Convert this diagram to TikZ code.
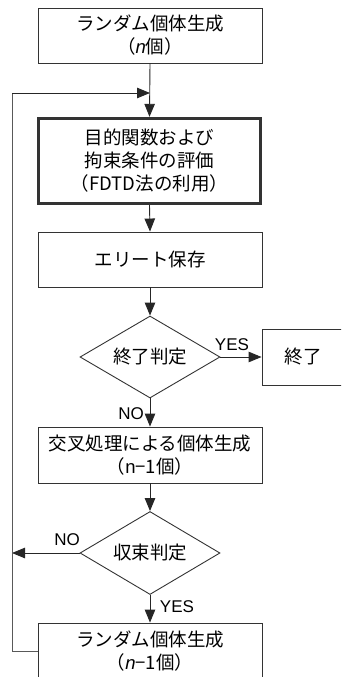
\documentclass[tikz,border=0pt]{standalone}
\usepackage{fontspec}
\setmainfont{Noto Sans CJK JP}
\newfontfamily\lat{Liberation Sans}
\usetikzlibrary{shapes.geometric,arrows.meta}
\tikzset{
  box/.style={draw=black!80, line width=0.9pt, minimum width=224pt, inner sep=0pt, align=center,
    font=\fontsize{18.5pt}{23pt}\selectfont},
  thickbox/.style={box, line width=3.4pt},
  decision/.style={draw=black!80, line width=0.9pt, shape=diamond, aspect=1.7, minimum width=140pt,
    minimum height=82pt, inner sep=0pt, font=\fontsize{18.5pt}{23pt}\selectfont},
  flow/.style={draw=black!85, line width=0.9pt, -{Triangle[length=13pt,width=10.5pt]}},
  loopline/.style={draw=black!65, line width=1pt},
  lbl/.style={font=\lat\fontsize{17pt}{19pt}\selectfont, inner sep=0pt}
}
\begin{document}
\begin{tikzpicture}[x=1pt,y=-1pt]
\useasboundingbox (0,0) rectangle (341,677);
\clip (0,0) rectangle (341,677);
\node[box, minimum height=55pt] (b1) at (150,35.5) {ランダム個体生成\\（{\lat\itshape n}個）};
\node[thickbox, minimum height=85pt, minimum width=222pt] (b2) at (149.5,161) {目的関数および\\拘束条件の評価\\（FDTD法の利用）};
\node[box, minimum height=55pt] (b3) at (150,259.5) {エリート保存};
\node[decision] (d1) at (150,357) {終了判定};
\node[box, minimum width=138pt, minimum height=56pt] (end) at (331,357) {\hspace*{-56pt}終了};
\node[box, minimum height=56pt] (b4) at (150,455) {交叉処理による個体生成\\（{\lat n}−1個）};
\node[decision, minimum height=83pt] (d2) at (150,553) {収束判定};
\node[box, minimum height=56pt] (b5) at (150,651) {ランダム個体生成\\（{\lat\itshape n}−1個）};

\coordinate (lc) at (12,651);
\coordinate (lt) at (12,93);
\coordinate (mt) at (150,93);
\coordinate (nl) at (12,553);

\draw[flow] (b1.south) -- (b2.north);
\draw[flow] (b2.south) -- (b3.north);
\draw[flow] (b3.south) -- (d1.north);
\draw[flow] (d1.east) -- (end.west);
\draw[flow] (d1.south) -- (b4.north);
\draw[flow] (b4.south) -- (d2.north);
\draw[flow] (d2.south) -- (b5.north);
\draw[flow] (d2.west) -- (nl);
\draw[loopline] (b5.west) -- (lc) -- (lt) -- ([xshift=-12pt]mt);
\draw[flow] (lt) -- (mt);

\node[lbl] (yes1) at (232,345) {YES};
\node[lbl] (no1) at (131,414) {NO};
\node[lbl] (no2) at (67,540) {NO};
\node[lbl] (yes2) at (177,607) {YES};
\end{tikzpicture}
\end{document}
